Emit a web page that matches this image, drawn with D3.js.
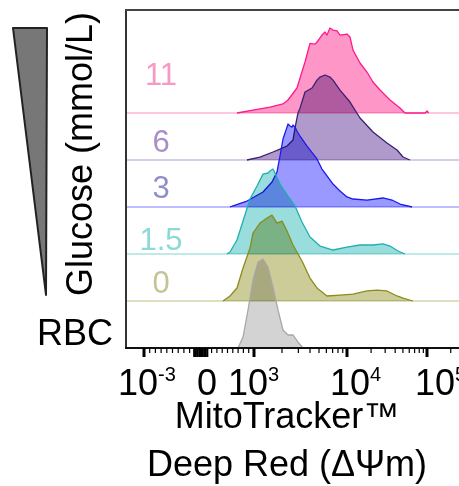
<!DOCTYPE html>
<html><head><meta charset="utf-8">
<script src="https://cdn.jsdelivr.net/npm/d3@7"></script>
<style>
html,body{margin:0;padding:0;background:#fff;}
svg{display:block;font-family:"Liberation Sans",Arial,sans-serif;}
</style></head>
<body><svg id="c" width="459" height="486"></svg>
<script>
// ---------- data ----------
const glucoseLabels = ["11", "6", "3", "1.5", "0"];
const controlLabel = "RBC";
// histograms: [fluorescence value, % of mode]
const hist11 = [[679,0],[981,3.5],[1486,7],[2050,10.6],[2322,15.3],[2898,29.4],[3535,60],[4000,82],[4529,81],[4755,83.5],[5383,91.7],[5800,95.3],[6095,91.7],[6560,100],[7070,97.6],[7800,96.5],[8410,91.7],[10000,92.9],[10900,89.4],[11885,74],[14540,58.8],[17780,48.2],[21130,36.5],[25850,27],[34470,15.3],[45970,5.9],[53090,0],[95000,0],[100000,2.4],[105000,0]];
const hist6 = [[868,0],[1160,3.5],[1600,9.4],[1904,12.9],[2264,16.5],[2626,23.5],[2760,37.6],[2972,55.3],[3124,61],[3535,80],[4207,84.7],[4755,94],[5130,97.6],[5800,100],[6560,97.6],[7070,94],[8410,82.3],[10900,68.2],[14540,49.4],[21130,32.9],[31620,20],[42170,11.8],[50120,3.5],[61310,0]];
const hist3 = [[547,0],[604,1.2],[868,7],[1250,17.6],[1562,29.4],[1767,41.2],[1904,60],[2050,80],[2264,94],[2322,97.6],[2439,95.3],[2563,94],[2626,96.5],[2760,94],[2898,89.4],[3124,83.5],[3715,71.7],[4755,56.5],[5383,44.7],[6095,36.5],[7070,27],[8410,18.8],[10000,11.8],[11885,9.4],[17780,8.2],[28180,10.6],[36520,8.2],[45970,3.5],[64940,0]];
const hist1_5 = [[490,0],[547,2.4],[679,16.5],[793,38.8],[925,64.7],[1077,80],[1250,94],[1414,95.3],[1486,97.6],[1600,100],[1681,95.3],[1904,82.3],[2322,68.2],[2760,56.5],[3281,37.6],[4000,20],[5130,9.4],[7070,4.7],[10000,8.2],[14540,10.6],[21130,10.6],[28180,11.8],[34470,9.4],[43410,3.5],[53090,0]];
const hist0 = [[415,0],[547,5.9],[679,15.3],[793,38.8],[925,62.3],[981,80],[1160,91.7],[1380,97.6],[1562,101],[1767,91.7],[2000,94],[2264,82.3],[2626,65.9],[3281,47],[4000,27],[4755,15.3],[6095,5.9],[8410,7],[11885,8.2],[17780,11.8],[23710,12.9],[31620,11.8],[42170,5.9],[50120,3.5],[66830,0]];
const histRBC = [[698,0],[793,12.9],[887,44.7],[981,80],[1104,101],[1250,104.7],[1414,95.3],[1600,71.7],[1811,44.7],[2050,21.2],[2322,15.3],[2626,15.3],[2972,7],[3365,0]];
const histograms = [hist11, hist6, hist3, hist1_5, hist0, histRBC];

const majorTicks = [-1000, 1000, 10000, 100000];
const denseTicks = [-120, -90, -60, -30, 0, 30, 60, 90, 120];
const minorTicks = [-900,-800,-700,-600,-500,-400,-300,-200,200,300,400,500,600,700,800,900,
  2000,3000,4000,5000,6000,7000,8000,9000,20000,30000,40000,50000,60000,70000,80000,90000,200000];
const tickLabelValues = [-1000, 0, 1000, 10000, 100000];
const tickLabelBase = ["10", "0", "10", "10", "10"];
const tickLabelExp = ["-3", "", "3", "4", "5"];

// ---------- styles / layout ----------
const fillCol   = ["#ff96c8", "#b09acb", "#9999ff", "#99dddd", "#cccc99", "#d3d3d3"];
const strokeCol = ["#ff1a8c", "#3a2270", "#1a1aee", "#1fb0b0", "#8c8c1a", "#a8a8a8"];
const baseCol   = ["#ffb3d6", "#cbbde2", "#a8a8ff", "#a8e3e3", "#d6d6ad", "#000"];
const labelCol  = ["#f59ac4", "#a98fc6", "#8e8ec8", "#8ed8d8", "#c4c496"];
const labelBaselines = [85, 152, 198, 250, 293];
const labelDx = [-26, -4, -26, -17, -12];

const svg = d3.select("#c");
const L = 126, T = 10, R = 459, B = 348;

const xLin = d3.scaleLinear().domain([-1000, 0, 1000]).range([144, 201, 254]);
const xLog = d3.scaleLog().domain([1000, 10000, 100000, 262144]).range([254, 347, 427, 460]);
const x = v => (v <= 1000 ? xLin(v) : xLog(v));
const row = d3.scaleLinear().domain([0, 5]).range([113, B]);
const h = d3.scaleLinear().domain([0, 100]).range([0, 85]);

const plot = svg.append("g");
plot.selectAll("line.base").data(histograms.slice(0, 5)).join("line")
  .attr("x1", L).attr("x2", R)
  .attr("y1", (d, i) => row(i)).attr("y2", (d, i) => row(i))
  .attr("stroke", (d, i) => baseCol[i]).attr("stroke-width", 1.5)
  .style("mix-blend-mode", "multiply");

histograms.forEach((data, i) => {
  const base = row(i);
  const area = d3.area().x(d => x(d[0])).y0(base).y1(d => base - h(d[1]));
  const line = d3.line().x(d => x(d[0])).y(d => base - h(d[1]));
  plot.append("path").datum(data).attr("d", area)
    .attr("fill", fillCol[i]).style("mix-blend-mode", "multiply");
  plot.append("path").datum(data).attr("d", line)
    .attr("fill", "none").attr("stroke", strokeCol[i]).attr("stroke-width", 1.3)
    .attr("stroke-linejoin", "round");
});

// frame
svg.append("line").attr("x1", L).attr("x2", L).attr("y1", T - 1).attr("y2", B)
  .attr("stroke", "#333").attr("stroke-width", 2);
svg.append("line").attr("x1", L - 1).attr("x2", R).attr("y1", T).attr("y2", T)
  .attr("stroke", "#444").attr("stroke-width", 2);
svg.append("line").attr("x1", L - 1).attr("x2", R).attr("y1", B).attr("y2", B)
  .attr("stroke", "#111").attr("stroke-width", 2);

// ticks
const ax = svg.append("g");
ax.selectAll("line.maj").data(majorTicks).join("line")
  .attr("x1", x).attr("x2", x).attr("y1", B).attr("y2", B + 9)
  .attr("stroke", "#000").attr("stroke-width", 3);
ax.selectAll("line.dense").data(denseTicks).join("line")
  .attr("x1", x).attr("x2", x).attr("y1", B).attr("y2", B + 9)
  .attr("stroke", "#000").attr("stroke-width", 2);
ax.selectAll("line.min").data(minorTicks).join("line")
  .attr("x1", x).attr("x2", x).attr("y1", B).attr("y2", B + 5)
  .attr("stroke", "#000").attr("stroke-width", 1.2);

const tl = ax.selectAll("text.tl").data(tickLabelValues).join("text")
  .attr("x", (d, i) => x(d) + labelDx[i]).attr("y", 395)
  .attr("font-size", 36).attr("fill", "#000");
tl.append("tspan").text((d, i) => tickLabelBase[i]);
tl.append("tspan").attr("dy", -14).attr("font-size", 20).text((d, i) => tickLabelExp[i]);

// axis title
svg.append("text").attr("x", 287).attr("y", 428).attr("text-anchor", "middle")
  .attr("font-size", 36).text("MitoTracker™");
svg.append("text").attr("x", 287).attr("y", 476).attr("text-anchor", "middle")
  .attr("font-size", 36).text("Deep Red (ΔΨm)");

// row labels
svg.selectAll("text.rl").data(glucoseLabels).join("text")
  .attr("x", 161).attr("y", (d, i) => labelBaselines[i]).attr("text-anchor", "middle")
  .attr("font-size", 31).attr("fill", (d, i) => labelCol[i]).text(d => d);
svg.append("text").attr("x", 37).attr("y", 345).attr("font-size", 36).text(controlLabel);

// glucose wedge and title
svg.append("polygon").attr("points", "13,28 47,28 46,295")
  .attr("fill", "#777").attr("stroke", "#222").attr("stroke-width", 2).attr("stroke-linejoin", "round");
svg.append("text").attr("transform", "translate(92,154) rotate(-90)")
  .attr("text-anchor", "middle").attr("font-size", 36).text("Glucose (mmol/L)");
</script></body></html>
